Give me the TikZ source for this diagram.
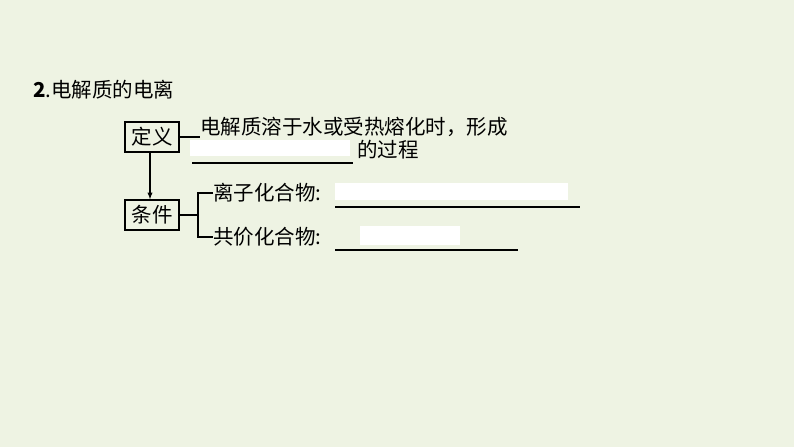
\documentclass[tikz,border=0pt]{standalone}
\usepackage{fontspec}
\newfontfamily\cjk{Noto Sans CJK SC}
\begin{document}
\begin{tikzpicture}[x=1pt,y=-1pt,
  box/.style={draw,line width=1.3pt,inner sep=2pt,font=\cjk\fontsize{20.5}{20.5}\selectfont},
  txt/.style={inner sep=0pt,anchor=west,font=\cjk\fontsize{20.5}{20.5}\selectfont},
  ln/.style={line width=1.3pt},
  patch/.style={fill=white,draw=none}]
\fill[fill={rgb,255:red,238;green,243;blue,227}] (0,0) rectangle (794,447);
\useasboundingbox (0,0) rectangle (794,447);
\node[txt] (title) at (33,90) {\textbf{2}\cjk .电解质的电离};
\node[box,minimum width=54pt,minimum height=30pt] (dy) at (152,137) {定义};
\node[box,minimum width=54pt,minimum height=30pt] (tj) at (152,215) {条件};
\draw[ln,-latex] (dy.south -| 150,0) -- (tj.north -| 150,0);
\node[txt] (l1) at (200,127) {电解质溶于水或受热熔化时，形成};
\draw[ln] (dy.east) -- (l1.west |- dy.east);
\fill[patch] (190,140) rectangle (350,156);
\coordinate (u1a) at (192,163); \coordinate (u1b) at (353,163);
\draw[ln] (u1a) -- (u1b);
\node[txt] (l2) at (357,150) {的过程};
\coordinate (br) at (198,215);
\draw[ln] (tj.east) -- (br);
\node[txt] (a) at (213,193) {离子化合物:};
\node[txt] (b) at (213,237) {共价化合物:};
\draw[ln] (a.west) -- (198,193) -- (198,237) -- (b.west);
\fill[patch] (335,183) rectangle (568,200);
\coordinate (u2a) at (335,207); \coordinate (u2b) at (580,207);
\draw[ln] (u2a) -- (u2b);
\fill[patch] (360,226) rectangle (460,245);
\coordinate (u3a) at (335,250); \coordinate (u3b) at (518,250);
\draw[ln] (u3a) -- (u3b);
\end{tikzpicture}
\end{document}
